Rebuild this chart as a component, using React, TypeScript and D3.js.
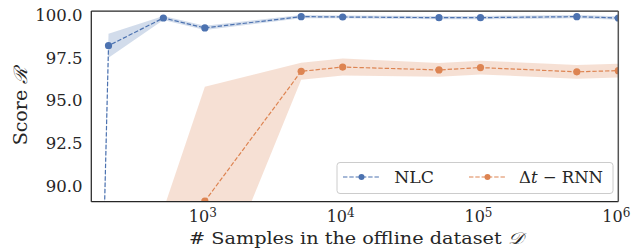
import React from 'react';
import * as d3 from 'd3';

// samples in the offline dataset
const samples = [100, 200, 500, 1000, 5000, 10000, 50000, 100000, 500000, 1000000];

// NLC: mean and std
const nlcMean = [0, 98.2, 99.82, 99.24, 99.9, 99.88, 99.84, 99.84, 99.9, 99.82];
const nlcStd = [0, 0.7, 0.12, 0.12, 0.1, 0.08, 0.1, 0.1, 0.1, 0.1];

// Δt-RNN: mean and std
const rnnSamples = [200, 500, 1000, 5000, 10000, 50000, 100000, 500000, 1000000];
const rnnMean = [70, 82, 89.1, 96.7, 96.95, 96.78, 96.92, 96.67, 96.74];
const rnnStd = [5, 6.6, 6.7, 0.5, 0.5, 0.4, 0.4, 0.4, 0.4];

const yTicks = [90.0, 92.5, 95.0, 97.5, 100.0];
const xTicks = [3, 4, 5, 6];

const BLUE = '#4C72B0';
const ORANGE = '#DD8452';
const INK = '#262626';
const FONT = 'DejaVu Serif';

export default function App() {
  const W = 636, H = 248;
  const m = { left: 91.3, right: 618.3, top: 11, bottom: 201.7 };
  const x = d3.scaleLog().domain([150, 1e6]).range([m.left, m.right]);
  const y = d3.scaleLinear().domain([89.07, 100.23]).range([m.bottom, m.top]);

  const series = [
    { xs: samples, mean: nlcMean, std: nlcStd, color: BLUE },
    { xs: rnnSamples, mean: rnnMean, std: rnnStd, color: ORANGE },
  ];

  const area = d3.area<any>()
    .x(d => x(d.x))
    .y0(d => y(d.m - d.sd))
    .y1(d => y(d.m + d.sd));
  const line = d3.line<any>().x(d => x(d.x)).y(d => y(d.m));

  return (
    <svg width={W} height={H} style={{ position: 'absolute', left: 0, top: 0 }} fontFamily={FONT}>
      <defs>
        <clipPath id="plot">
          <rect x={m.left} y={m.top} width={m.right - m.left} height={m.bottom - m.top} />
        </clipPath>
      </defs>
      <rect width={W} height={H} fill="white" />
      <g clipPath="url(#plot)">
        {series.map((s, i) => {
          const pts = s.xs.map((v, j) => ({ x: v, m: s.mean[j], sd: s.std[j] }));
          return <path key={'band' + i} d={area(pts) || ''} fill={s.color} opacity={0.25} />;
        })}
        {series.map((s, i) => {
          const pts = s.xs.map((v, j) => ({ x: v, m: s.mean[j] }));
          return (
            <g key={'line' + i}>
              <path d={line(pts) || ''} fill="none" stroke={s.color} strokeWidth={1.2} strokeDasharray="4.4,1.9" />
              {pts.map((p, j) => (
                <circle key={j} cx={x(p.x)} cy={y(p.m)} r={3.6} fill={s.color} />
              ))}
            </g>
          );
        })}
      </g>
      {/* spines */}
      <line x1={m.left} x2={m.right} y1={m.top} y2={m.top} stroke={INK} strokeWidth={1.25} />
      <line x1={m.left} x2={m.right} y1={m.bottom} y2={m.bottom} stroke={INK} strokeWidth={1.25} />
      <line x1={m.left} x2={m.left} y1={m.top} y2={m.bottom} stroke={INK} strokeWidth={1.25} />
      <line x1={m.right} x2={m.right} y1={m.top} y2={m.bottom} stroke="#555" strokeWidth={1.5} />
      {/* y ticks */}
      {yTicks.map(t => (
        <text key={t} x={82.5} y={y(t)} dy="0.36em" textAnchor="end" fontSize={16.5} fill={INK}>
          {t.toFixed(1)}
        </text>
      ))}
      {/* x ticks: 10^k */}
      {xTicks.map(t => (
        <text key={t} x={x(Math.pow(10, t)) - 16} y={222} fontSize={16} fill={INK}>
          10<tspan dy={-5.5} fontSize={12}>{t}</tspan>
        </text>
      ))}
      {/* axis labels */}
      <text x={189} y={244} fontSize={16.5} fill={INK} textLength={334} lengthAdjust="spacingAndGlyphs">
        # Samples in the offline dataset <tspan fontStyle="italic">𝒟</tspan>
      </text>
      <text transform={`translate(26.5,${(m.top + m.bottom) / 2 + 39}) rotate(-90)`} fontSize={18.5} fill={INK}
        textLength={78} lengthAdjust="spacingAndGlyphs">
        Score <tspan fontStyle="italic">ℛ</tspan>
      </text>
      {/* legend */}
      <g>
        <rect x={337} y={162.5} width={276} height={31} rx={3} fill="white" fillOpacity={0.85} stroke="#cccccc" strokeWidth={1} />
        <line x1={343} x2={380} y1={177} y2={177} stroke={BLUE} strokeWidth={1.2} strokeDasharray="4.4,1.9" />
        <circle cx={361.5} cy={177} r={3} fill={BLUE} />
        <text x={394.3} y={177} dy="0.36em" fontSize={17} fill={INK} textLength={39.7} lengthAdjust="spacingAndGlyphs">NLC</text>
        <line x1={469} x2={506} y1={177} y2={177} stroke={ORANGE} strokeWidth={1.2} strokeDasharray="4.4,1.9" />
        <circle cx={487.5} cy={177} r={3} fill={ORANGE} />
        <text x={519} y={177} dy="0.36em" fontSize={17} fill={INK} textLength={84} lengthAdjust="spacingAndGlyphs">
          Δ<tspan fontStyle="italic">t</tspan> − RNN
        </text>
      </g>
    </svg>
  );
}
